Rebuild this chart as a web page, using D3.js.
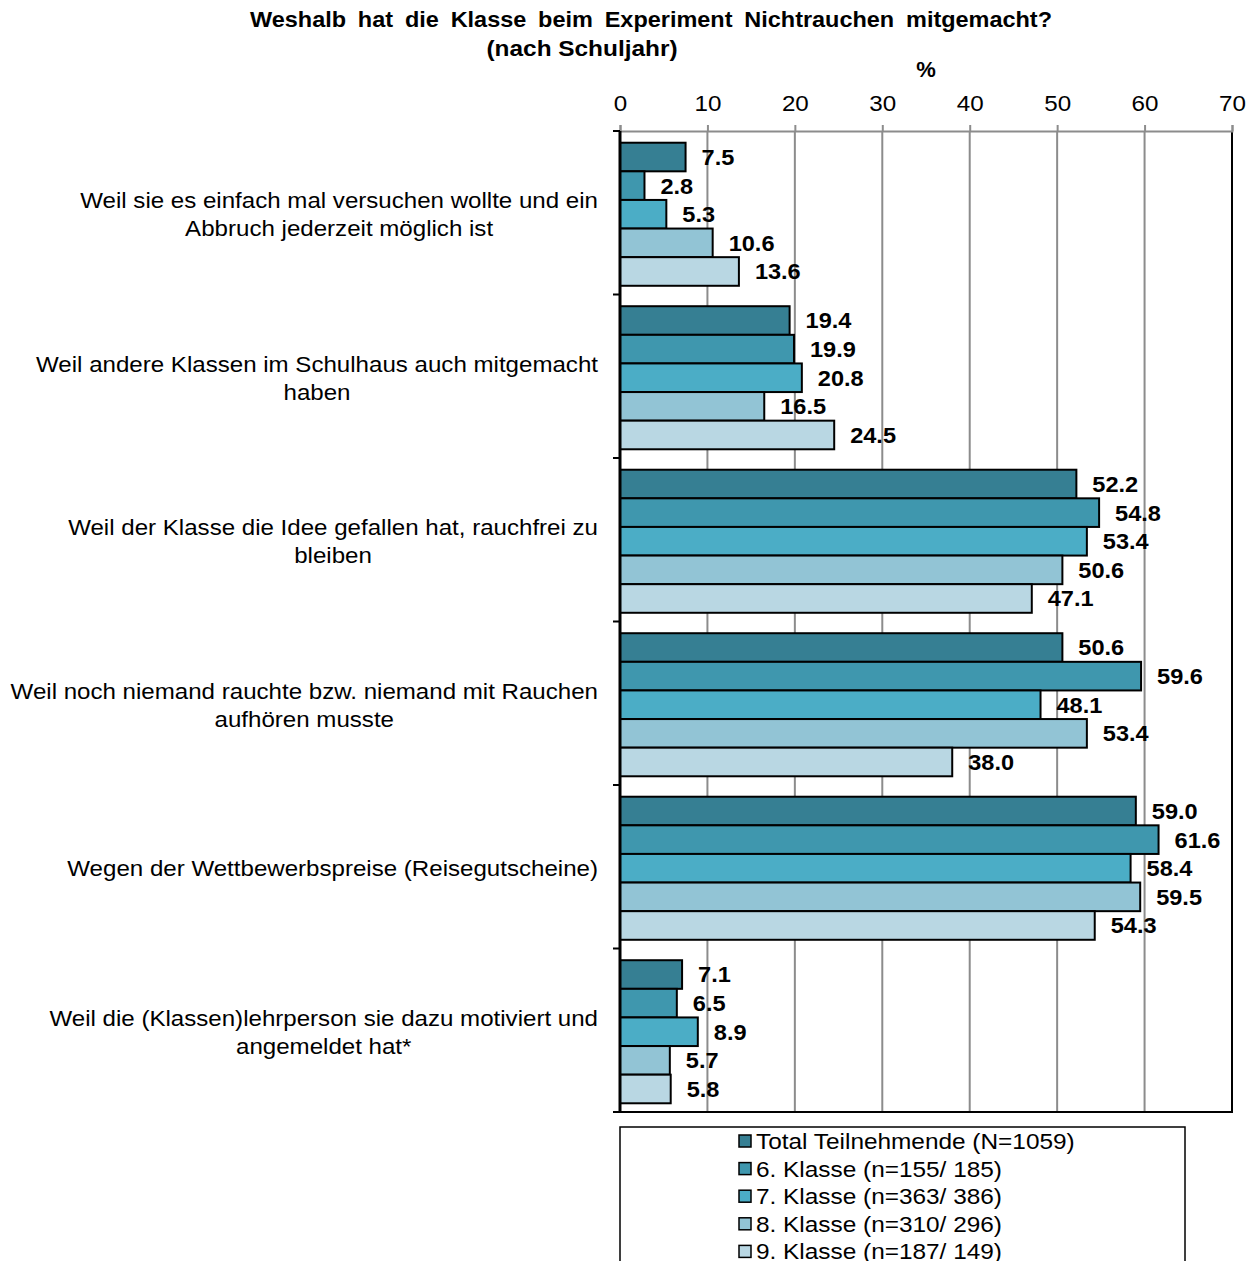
<!DOCTYPE html>
<html>
<head>
<meta charset="utf-8">
<script src="https://cdn.jsdelivr.net/npm/d3@7"></script>
<style>
  html, body { margin: 0; padding: 0; background: #fff; }
  svg { display: block; font-family: "Liberation Sans", Arial, sans-serif; }
</style>
</head>
<body>
<svg id="chart" width="1260" height="1261"></svg>
<script>
// Reasons (categories), one group of bars each
const categories = [
  ["Weil sie es einfach mal versuchen wollte und ein", "Abbruch jederzeit möglich ist"],
  ["Weil andere Klassen im Schulhaus auch mitgemacht", "haben"],
  ["Weil der Klasse die Idee gefallen hat, rauchfrei zu", "bleiben"],
  ["Weil noch niemand rauchte bzw. niemand mit Rauchen", "aufhören musste"],
  ["Wegen der Wettbewerbspreise (Reisegutscheine)"],
  ["Weil die (Klassen)lehrperson sie dazu motiviert und", "angemeldet hat*"]
];

// Series: school years
const seriesNames = [
  "Total Teilnehmende (N=1059)",
  "6. Klasse (n=155/ 185)",
  "7. Klasse (n=363/ 386)",
  "8. Klasse (n=310/ 296)",
  "9. Klasse (n=187/ 149)"
];
const seriesColors = ["#367f93", "#3f97ae", "#4badc6", "#92c4d5", "#b9d7e3"];

// Percent values per series, in category order
const totalValues = [7.5, 19.4, 52.2, 50.6, 59.0, 7.1];
const class6Values = [2.8, 19.9, 54.8, 59.6, 61.6, 6.5];
const class7Values = [5.3, 20.8, 53.4, 48.1, 58.4, 8.9];
const class8Values = [10.6, 16.5, 50.6, 53.4, 59.5, 5.7];
const class9Values = [13.6, 24.5, 47.1, 38.0, 54.3, 5.8];
const seriesValues = [totalValues, class6Values, class7Values, class8Values, class9Values];

const xTicks = [0, 10, 20, 30, 40, 50, 60, 70];

const svg = d3.select("#chart");

// Widen text glyphs horizontally by a factor (keeps anchor behaviour)
function widen(sel, k) {
  sel.each(function () {
    const w = this.getComputedTextLength();
    d3.select(this).attr("textLength", w * k).attr("lengthAdjust", "spacingAndGlyphs");
  });
  return sel;
}

const plot = { left: 620, right: 1232, top: 131, bottom: 1112 };

const x = d3.scaleLinear().domain([0, 70]).range([plot.left, plot.right]);
const y = d3.scaleBand()
  .domain(d3.range(categories.length))
  .range([plot.top + 1.5, plot.bottom + 1.5])
  .paddingInner(0.125)
  .paddingOuter(0.0625);
const ySub = d3.scaleBand()
  .domain(d3.range(seriesNames.length))
  .range([0, y.bandwidth()]);

// Title
const title = svg.append("g")
  .attr("font-weight", "bold")
  .attr("font-size", 22)
  .attr("fill", "#000");
title.append("text")
  .attr("x", 651).attr("y", 27)
  .attr("text-anchor", "middle")
  .attr("word-spacing", 5)
  .attr("textLength", 802)
  .attr("lengthAdjust", "spacingAndGlyphs")
  .text("Weshalb hat die Klasse beim Experiment Nichtrauchen mitgemacht?");
title.append("text")
  .attr("x", 582).attr("y", 56)
  .attr("text-anchor", "middle")
  .attr("textLength", 191)
  .attr("lengthAdjust", "spacingAndGlyphs")
  .text("(nach Schuljahr)");

// Axis title
svg.append("text")
  .attr("x", x(35)).attr("y", 77)
  .attr("text-anchor", "middle")
  .attr("font-weight", "bold")
  .attr("font-size", 22)
  .text("%");

// Vertical gridlines
svg.append("g")
  .selectAll("line")
  .data(xTicks.filter(t => t > 0 && t < 70))
  .join("line")
  .attr("x1", d => x(d)).attr("x2", d => x(d))
  .attr("y1", plot.top).attr("y2", plot.bottom)
  .attr("stroke", "#8c8c8c")
  .attr("stroke-width", 2);

// Right border of plot area
svg.append("line")
  .attr("x1", plot.right).attr("x2", plot.right)
  .attr("y1", plot.top).attr("y2", plot.bottom)
  .attr("stroke", "#000").attr("stroke-width", 2);

// Top value axis
const xAxis = d3.axisTop(x).tickValues(xTicks).tickSize(6).tickPadding(14).tickFormat(d3.format("d"));
const gx = svg.append("g")
  .attr("transform", `translate(0,${plot.top})`)
  .call(xAxis);
gx.select(".domain").attr("stroke", "#8c8c8c").attr("stroke-width", 2);
gx.selectAll(".tick line").attr("stroke", "#8c8c8c").attr("stroke-width", 2);
widen(gx.selectAll(".tick text")
  .attr("font-size", 22)
  .attr("font-family", "'Liberation Sans', Arial, sans-serif")
  .attr("fill", "#000"), 1.1);

// Bars
const groups = svg.append("g")
  .selectAll("g")
  .data(categories.map((c, i) => i))
  .join("g")
  .attr("transform", i => `translate(0,${y(i)})`);

groups.selectAll("rect")
  .data(i => seriesValues.map((vals, s) => ({ s, v: vals[i] })))
  .join("rect")
  .attr("x", x(0))
  .attr("y", d => ySub(d.s))
  .attr("width", d => x(d.v) - x(0))
  .attr("height", ySub.bandwidth())
  .attr("fill", d => seriesColors[d.s])
  .attr("stroke", "#000")
  .attr("stroke-width", 2);

widen(groups.selectAll("text.value")
  .data(i => seriesValues.map((vals, s) => ({ s, v: vals[i] })))
  .join("text")
  .attr("class", "value")
  .attr("x", d => x(d.v) + 16)
  .attr("y", d => ySub(d.s) + ySub.bandwidth() / 2)
  .attr("dy", "0.36em")
  .attr("font-weight", "bold")
  .attr("font-size", 22)
  .text(d => d.v.toFixed(1)), 1.07);

// Bottom border
svg.append("line")
  .attr("x1", plot.left - 7).attr("x2", plot.right + 1)
  .attr("y1", plot.bottom).attr("y2", plot.bottom)
  .attr("stroke", "#000").attr("stroke-width", 2);

// Left category axis with ticks at group boundaries
const boundaries = d3.range(categories.length + 1).map(i => plot.top + i * y.step());
svg.append("line")
  .attr("x1", plot.left).attr("x2", plot.left)
  .attr("y1", plot.top).attr("y2", plot.bottom)
  .attr("stroke", "#000").attr("stroke-width", 3);
svg.append("g")
  .selectAll("line")
  .data(boundaries)
  .join("line")
  .attr("x1", plot.left - 7).attr("x2", plot.left)
  .attr("y1", d => d).attr("y2", d => d)
  .attr("stroke", "#000").attr("stroke-width", 2);

// Category labels: centered block, right edge aligned near the axis
const labelRight = 598;
const lineH = 28;
categories.forEach((lines, i) => {
  const cy = y(i) + y.bandwidth() / 2;
  const g = svg.append("g").attr("font-size", 22).attr("fill", "#000");
  const texts = lines.map((ln, k) => g.append("text")
    .attr("y", cy + (k - (lines.length - 1) / 2) * lineH)
    .attr("dy", "0.36em")
    .attr("text-anchor", "middle")
    .text(ln));
  texts.forEach(t => widen(t, 1.095));
  const w = d3.max(texts, t => +t.attr("textLength"));
  texts.forEach(t => t.attr("x", labelRight - w / 2));
});

// Legend
const legend = svg.append("g");
legend.append("rect")
  .attr("x", 620).attr("y", 1127)
  .attr("width", 565).attr("height", 160)
  .attr("fill", "#fff")
  .attr("stroke", "#000").attr("stroke-width", 1.5);
const legendRows = legend.selectAll("g")
  .data(seriesNames.map((n, s) => ({ n, s })))
  .join("g")
  .attr("transform", d => `translate(739,${1141 + d.s * 27.6})`);
legendRows.append("rect")
  .attr("x", 0).attr("y", -6)
  .attr("width", 12).attr("height", 12)
  .attr("fill", d => seriesColors[d.s])
  .attr("stroke", "#000").attr("stroke-width", 1.5);
widen(legendRows.append("text")
  .attr("x", 17).attr("dy", "0.36em")
  .attr("font-size", 22)
  .text(d => d.n), 1.108);
</script>
</body>
</html>
